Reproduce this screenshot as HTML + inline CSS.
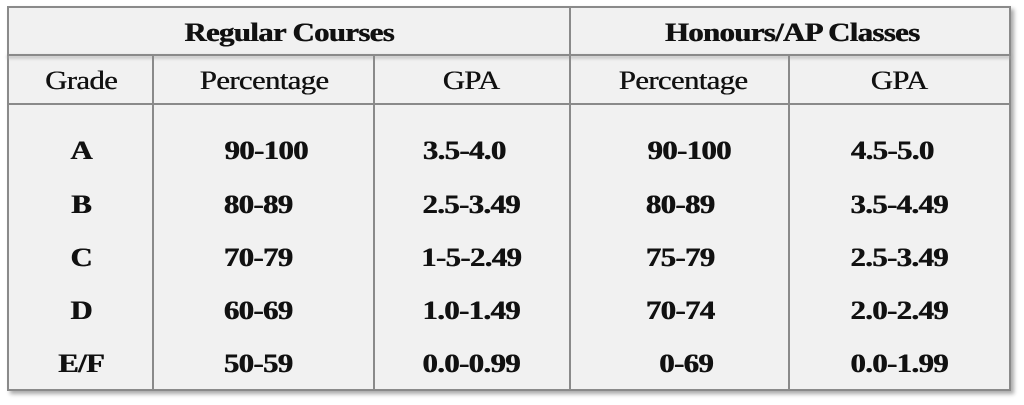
<!DOCTYPE html>
<html><head><style>
body{margin:0;width:1024px;height:405px;background:#fff;position:relative;overflow:hidden;font-family:"Liberation Serif",serif;font-weight:bold;color:#111}
.box{position:absolute;left:7px;top:6px;width:1000px;height:381px;background:#f1f1f1;border:2px solid #8a8a8a;box-shadow:3px 3px 4px #aaa}
.h{position:absolute;height:2px;background:#8a8a8a}
.v{position:absolute;width:2px;background:#8a8a8a}
.t{position:absolute;transform:translate(-50%,-50%) scaleX(1.18);font-size:26px;white-space:nowrap;letter-spacing:-0.5px;text-shadow:0.6px 0 0 #111}
.n{font-weight:normal;text-shadow:0.4px 0 0 #111}
</style></head><body>
<div class="box"></div>
<div class="h" style="left:7px;top:54px;width:1004px;box-shadow:0 2px 3px #aaa"></div>
<div class="h" style="left:7px;top:103px;width:1004px"></div>
<div class="v" style="left:569px;top:6px;height:383px"></div>
<div class="v" style="left:152px;top:55px;height:334px"></div>
<div class="v" style="left:373px;top:55px;height:334px"></div>
<div class="v" style="left:788px;top:55px;height:334px"></div>
<div class="t" style="left:289px;top:33px">Regular Courses</div>
<div class="t" style="left:792px;top:33px">Honours/AP Classes</div>
<div class="t n" style="left:81px;top:81px">Grade</div>
<div class="t n" style="left:264px;top:81px">Percentage</div>
<div class="t n" style="left:471px;top:81px">GPA</div>
<div class="t n" style="left:683px;top:81px">Percentage</div>
<div class="t n" style="left:899px;top:81px">GPA</div>

<div class="t" style="left:81px;top:151px">A</div>
<div class="t" style="left:266px;top:151px">90-100</div>
<div class="t" style="left:464px;top:151px">3.5-4.0</div>
<div class="t" style="left:689px;top:151px">90-100</div>
<div class="t" style="left:892px;top:151px">4.5-5.0</div>

<div class="t" style="left:81px;top:205px">B</div>
<div class="t" style="left:258px;top:205px">80-89</div>
<div class="t" style="left:471px;top:205px">2.5-3.49</div>
<div class="t" style="left:680px;top:205px">80-89</div>
<div class="t" style="left:899px;top:205px">3.5-4.49</div>

<div class="t" style="left:81px;top:258px">C</div>
<div class="t" style="left:258px;top:258px">70-79</div>
<div class="t" style="left:471px;top:258px">1-5-2.49</div>
<div class="t" style="left:680px;top:258px">75-79</div>
<div class="t" style="left:899px;top:258px">2.5-3.49</div>

<div class="t" style="left:81px;top:311px">D</div>
<div class="t" style="left:258px;top:311px">60-69</div>
<div class="t" style="left:471px;top:311px">1.0-1.49</div>
<div class="t" style="left:680px;top:311px">70-74</div>
<div class="t" style="left:899px;top:311px">2.0-2.49</div>

<div class="t" style="left:81px;top:364px">E/F</div>
<div class="t" style="left:258px;top:364px">50-59</div>
<div class="t" style="left:471px;top:364px">0.0-0.99</div>
<div class="t" style="left:686px;top:364px">0-69</div>
<div class="t" style="left:899px;top:364px">0.0-1.99</div>
</body></html>
